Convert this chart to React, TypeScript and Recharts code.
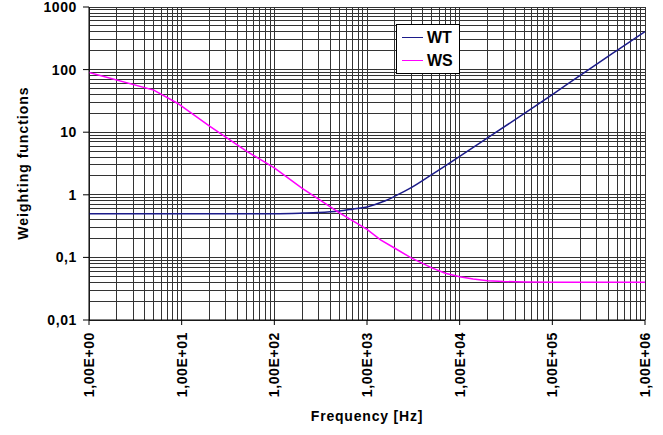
import React from "react";
import { LineChart, Line, XAxis, YAxis, CartesianGrid, Label } from "recharts";

// ─── Data ────────────────────────────────────────────────────────────────────

const wtFreq = [1, 10, 100, 200, 300, 500, 700, 1000, 1500, 2000, 3000, 5000, 7000, 10000, 20000, 50000, 100000, 200000, 500000, 1000000];
const wtValue = [0.5, 0.5, 0.5, 0.51, 0.52, 0.55, 0.59, 0.64, 0.78, 0.95, 1.3, 2.1, 2.9, 4.1, 8.1, 20, 40, 81, 203, 405];

const wsFreq = [1, 5, 9, 20, 50, 100, 200, 500, 1000, 1400, 2000, 3000, 5000, 7000, 10000, 14000, 20000, 30000, 50000, 100000, 1000000];
const wsValue = [90, 47, 29, 12.5, 5, 2.7, 1.27, 0.52, 0.28, 0.19, 0.14, 0.098, 0.068, 0.056, 0.049, 0.045, 0.0425, 0.0412, 0.0405, 0.04, 0.04];

const xTicks = [1, 10, 100, 1000, 10000, 100000, 1000000];
const xTickLabels = ["1,00E+00", "1,00E+01", "1,00E+02", "1,00E+03", "1,00E+04", "1,00E+05", "1,00E+06"];
const yTicks = [0.01, 0.1, 1, 10, 100, 1000];
const yTickLabels = ["0,01", "0,1", "1", "10", "100", "1000"];

const seriesNames = ["WT", "WS"];
const seriesColors = ["#1c1c8a", "#ff00ff"];

// minor log grid: 1..9 inside every decade
const minorSteps = [1, 2, 3, 4, 5, 6, 7, 8, 9];
const logGrid = (ticks: number[]) => {
  const out: number[] = [];
  ticks.slice(0, -1).forEach((t) => minorSteps.forEach((m) => out.push(t * m)));
  out.push(ticks[ticks.length - 1]);
  return out;
};

const wtData = wtFreq.map((f, i) => ({ f, v: wtValue[i] }));
const wsData = wsFreq.map((f, i) => ({ f, v: wsValue[i] }));

const FONT = "'Liberation Sans', Arial, sans-serif";

// ─── Ticks ───────────────────────────────────────────────────────────────────

function XTick({ x, y, payload }: { x?: number; y?: number; payload?: { value: number } }) {
  const idx = xTicks.indexOf(payload?.value ?? -1);
  return (
    <text
      x={x}
      y={y}
      dy="0.35em"
      transform={`rotate(-90, ${x}, ${y})`}
      textAnchor="end"
      fontFamily={FONT}
      fontWeight="bold"
      fontSize={14}
      letterSpacing={0.6}
      fill="#000"
    >
      {xTickLabels[idx]}
    </text>
  );
}

function YTick({ x, y, payload }: { x?: number; y?: number; payload?: { value: number } }) {
  const idx = yTicks.indexOf(payload?.value ?? -1);
  return (
    <text
      x={x}
      y={y}
      dy="0.35em"
      textAnchor="end"
      fontFamily={FONT}
      fontWeight="bold"
      fontSize={14}
      letterSpacing={0.6}
      fill="#000"
    >
      {yTickLabels[idx]}
    </text>
  );
}

// ─── Legend (drawn as an overlay so it doesn't eat plot space) ───────────────

function LegendBox() {
  return (
    <div
      style={{
        position: "absolute",
        left: 396,
        top: 24,
        width: 57,
        background: "#fff",
        border: "1px solid #000",
        padding: "1px 0 1px 5px",
        fontFamily: FONT,
      }}
    >
      {seriesNames.map((name, i) => (
        <div key={name} style={{ display: "flex", alignItems: "center", height: 23 }}>
          <div style={{ width: 21, height: 1.5, background: seriesColors[i], marginRight: 4 }} />
          <span style={{ fontSize: 16, fontWeight: "bold", color: "#000" }}>{name}</span>
        </div>
      ))}
    </div>
  );
}

// ─── Main ────────────────────────────────────────────────────────────────────

export default function App() {
  return (
    <div style={{ position: "absolute", left: 0, top: 0, width: 663, height: 435, background: "#fff" }}>
      <LineChart width={663} height={435} margin={{ top: 7, right: 18, bottom: 0, left: 19 }}>
        <CartesianGrid
          stroke="#333"
          strokeWidth={1}
          shapeRendering="crispEdges"
          verticalValues={logGrid(xTicks)}
          horizontalValues={logGrid(yTicks)}
        />
        <XAxis
          dataKey="f"
          type="number"
          scale="log"
          domain={[1, 1000000]}
          ticks={xTicks}
          allowDataOverflow
          height={115}
          tickSize={5}
          tickMargin={7}
          stroke="#000"
          tick={<XTick />}
          interval={0}
        >
          <Label
            content={() => (
              <text
                x={367}
                y={416}
                dy="0.35em"
                textAnchor="middle"
                fontFamily={FONT}
                fontWeight="bold"
                fontSize={14}
                letterSpacing={0.8}
                fill="#000"
              >
                Frequency [Hz]
              </text>
            )}
          />
        </XAxis>
        <YAxis
          dataKey="v"
          type="number"
          scale="log"
          domain={[0.01, 1000]}
          ticks={yTicks}
          allowDataOverflow
          width={70}
          tickSize={6}
          tickMargin={6}
          stroke="#000"
          tick={<YTick />}
          interval={0}
        >
          <Label
            content={() => (
              <text
                x={23}
                y={163}
                dy="0.35em"
                transform="rotate(-90, 23, 163)"
                textAnchor="middle"
                fontFamily={FONT}
                fontWeight="bold"
                fontSize={14}
                letterSpacing={1}
                fill="#000"
              >
                Weighting functions
              </text>
            )}
          />
        </YAxis>
        <Line
          data={wtData}
          dataKey="v"
          name={seriesNames[0]}
          type="monotone"
          stroke={seriesColors[0]}
          strokeWidth={1.5}
          dot={false}
          isAnimationActive={false}
        />
        <Line
          data={wsData}
          dataKey="v"
          name={seriesNames[1]}
          type="linear"
          stroke={seriesColors[1]}
          strokeWidth={1.5}
          dot={false}
          isAnimationActive={false}
        />
      </LineChart>
      <LegendBox />
    </div>
  );
}
